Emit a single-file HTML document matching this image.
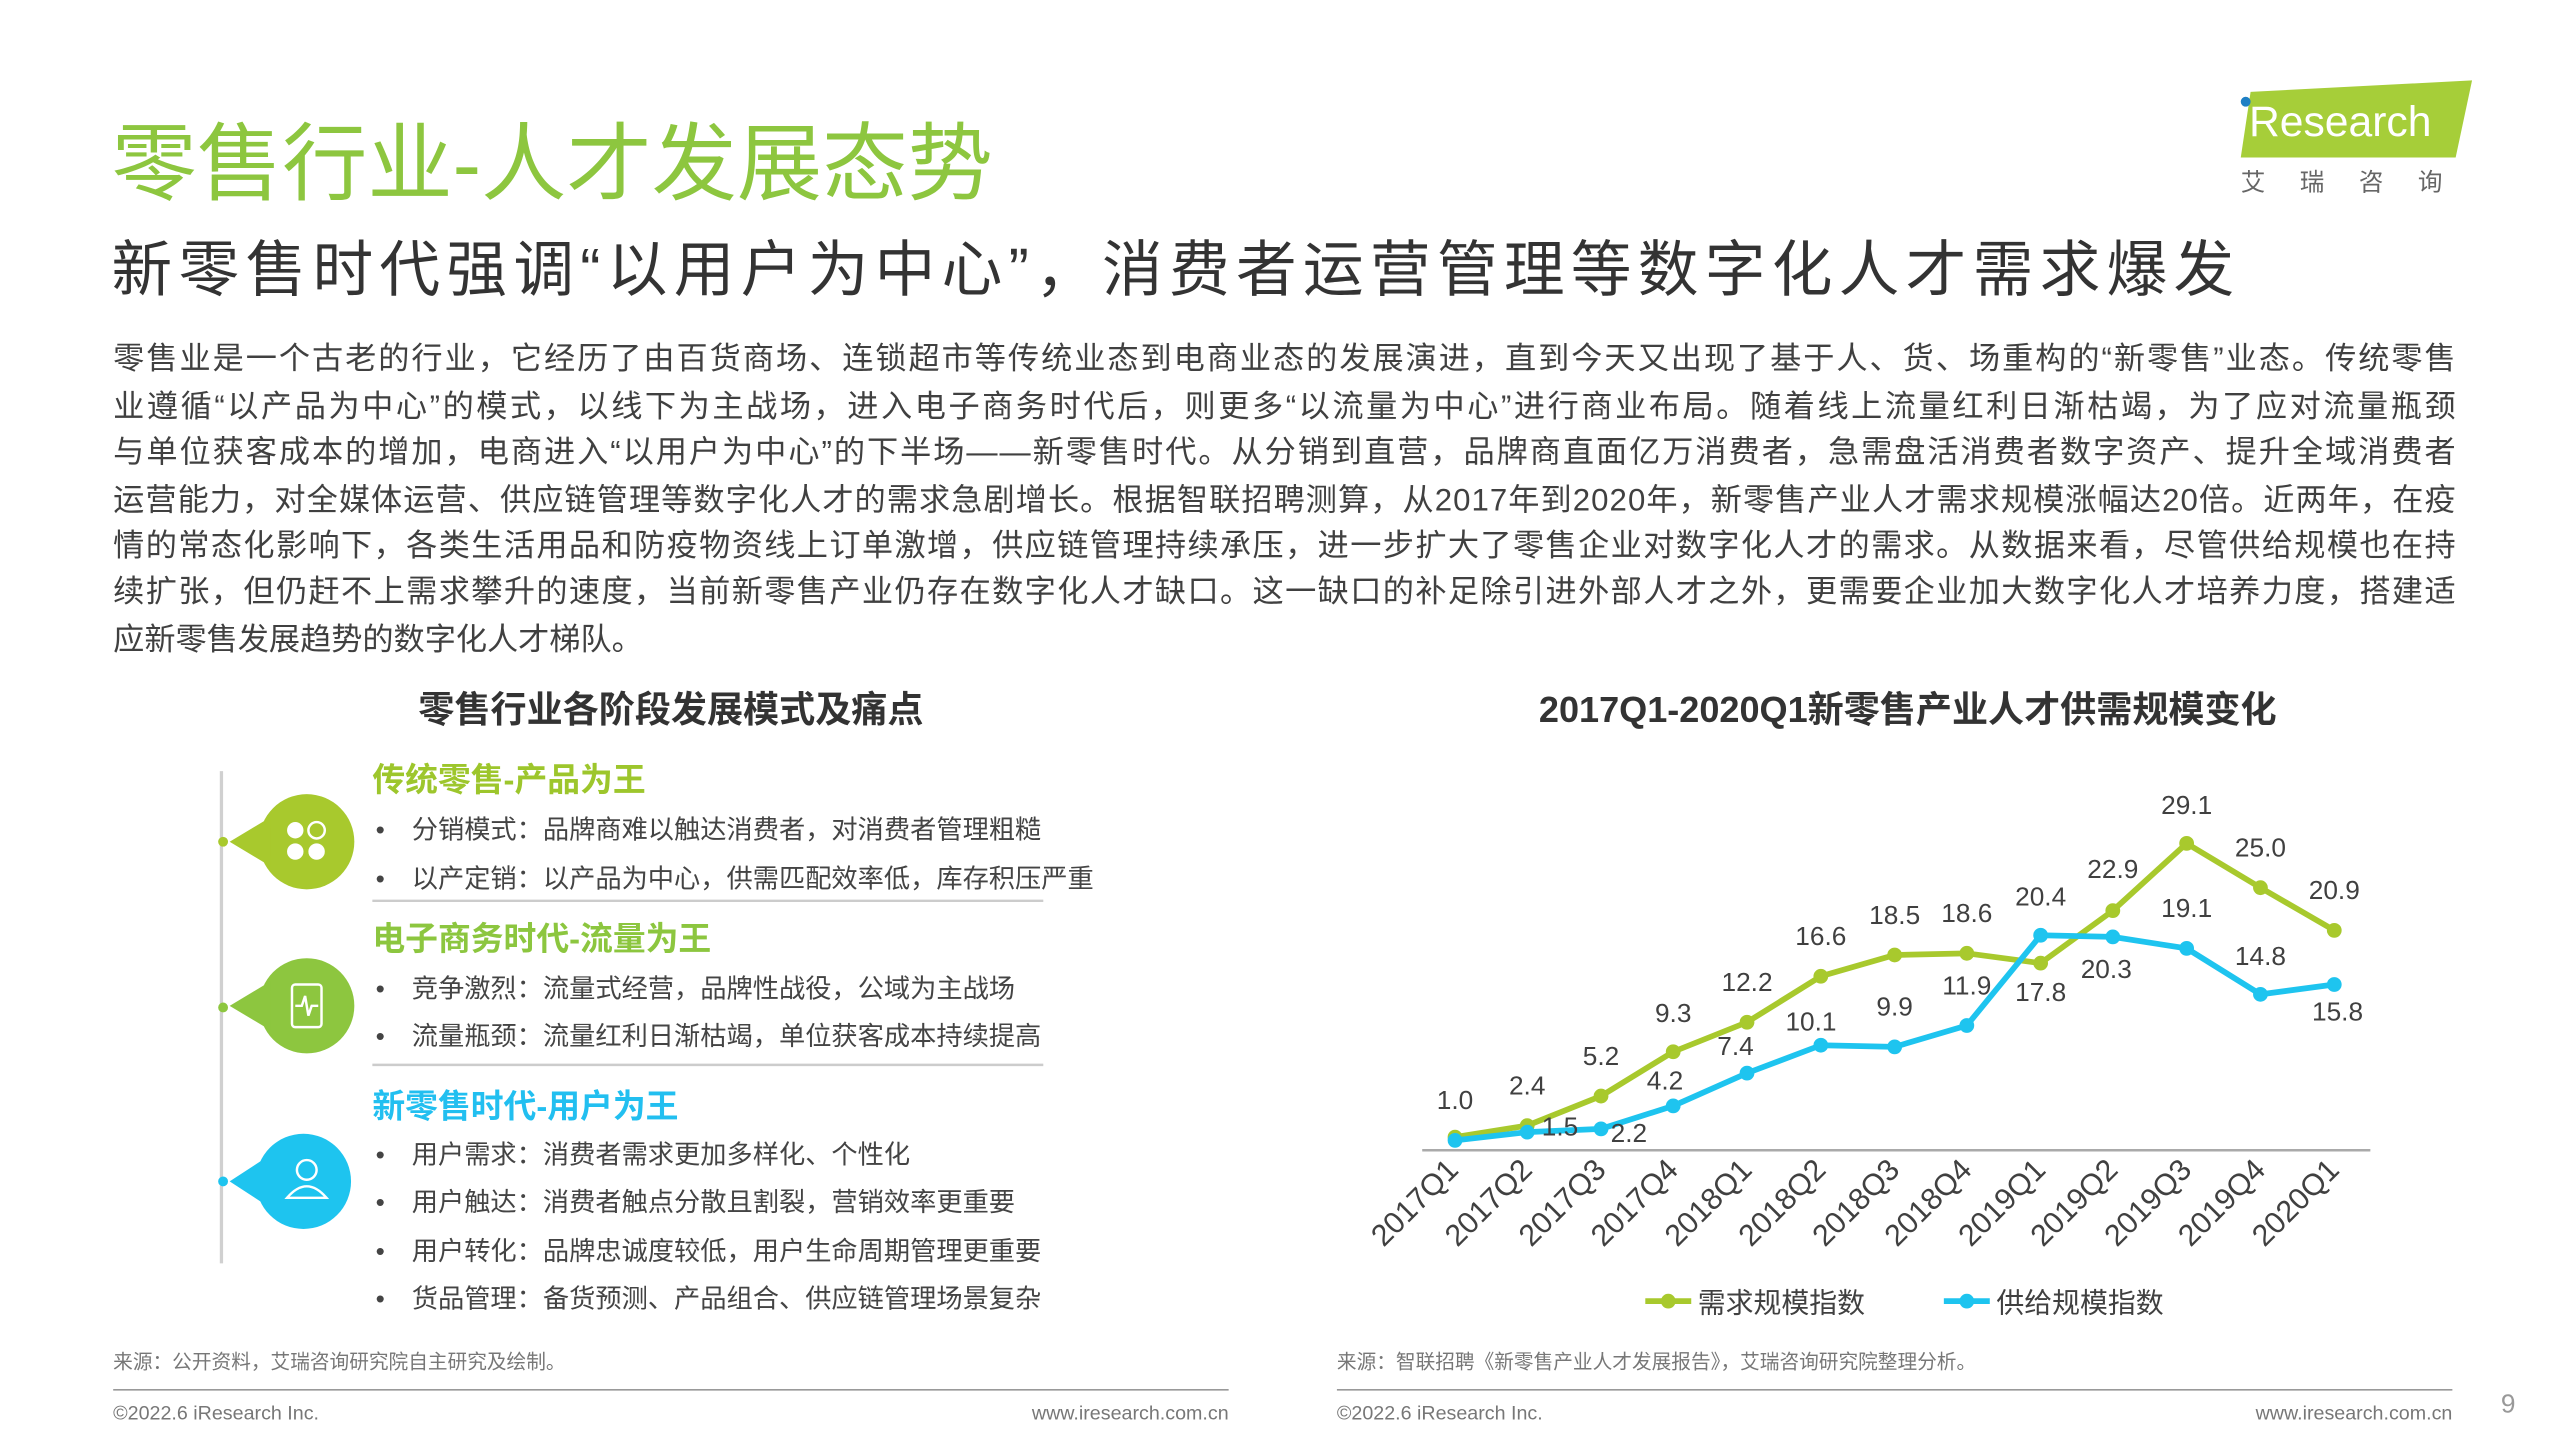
<!DOCTYPE html>
<html><head><meta charset="utf-8">
<style>
html,body{margin:0;padding:0;background:#fff;}
svg{display:block;}
text{font-family:"Liberation Sans","Noto Sans CJK SC",sans-serif;}
</style></head>
<body>
<svg width="2559" height="1439" viewBox="0 0 1560 877" preserveAspectRatio="none" xmlns="http://www.w3.org/2000/svg">
<rect width="1560" height="877" fill="#fff"/>
<!-- Logo -->
<polygon points="1372,56 1507,49 1497,96 1366,96" fill="#a6ce39"/>
<circle cx="1369" cy="62" r="3" fill="#1e7fc4"/>
<text x="1371" y="83" font-size="26" fill="#fff">Research</text>
<text x="1366" y="116" font-size="15" fill="#666" letter-spacing="21">艾瑞咨询</text>
<!-- Title -->
<text x="68" y="118" font-size="52" fill="#8dc63f">零售行业-人才发展态势</text>
<text x="68" y="177" font-size="37" fill="#333" textLength="1294" lengthAdjust="spacing">新零售时代强调“以用户为中心”，消费者运营管理等数字化人才需求爆发</text>
<g font-size="19" fill="#404040">
<text x="69" y="225" textLength="1428" lengthAdjust="spacing">零售业是一个古老的行业，它经历了由百货商场、连锁超市等传统业态到电商业态的发展演进，直到今天又出现了基于人、货、场重构的“新零售”业态。传统零售</text>
<text x="69" y="254" textLength="1428" lengthAdjust="spacing">业遵循“以产品为中心”的模式，以线下为主战场，进入电子商务时代后，则更多“以流量为中心”进行商业布局。随着线上流量红利日渐枯竭，为了应对流量瓶颈</text>
<text x="69" y="282" textLength="1428" lengthAdjust="spacing">与单位获客成本的增加，电商进入“以用户为中心”的下半场——新零售时代。从分销到直营，品牌商直面亿万消费者，急需盘活消费者数字资产、提升全域消费者</text>
<text x="69" y="311" textLength="1428" lengthAdjust="spacing">运营能力，对全媒体运营、供应链管理等数字化人才的需求急剧增长。根据智联招聘测算，从2017年到2020年，新零售产业人才需求规模涨幅达20倍。近两年，在疫</text>
<text x="69" y="339" textLength="1428" lengthAdjust="spacing">情的常态化影响下，各类生活用品和防疫物资线上订单激增，供应链管理持续承压，进一步扩大了零售企业对数字化人才的需求。从数据来看，尽管供给规模也在持</text>
<text x="69" y="367" textLength="1428" lengthAdjust="spacing">续扩张，但仍赶不上需求攀升的速度，当前新零售产业仍存在数字化人才缺口。这一缺口的补足除引进外部人才之外，更需要企业加大数字化人才培养力度，搭建适</text>
<text x="69" y="396">应新零售发展趋势的数字化人才梯队。</text>
</g>
<!-- Section titles -->
<text x="409" y="440" font-size="22" font-weight="bold" fill="#333" text-anchor="middle">零售行业各阶段发展模式及痛点</text>
<text x="1163" y="440" font-size="22" font-weight="bold" fill="#333" text-anchor="middle">2017Q1-2020Q1新零售产业人才供需规模变化</text>
<!-- Left panel -->
<line x1="135" y1="470" x2="135" y2="770" stroke="#d0d0d0" stroke-width="2"/>
<g>
<circle cx="187" cy="513" r="29" fill="#a8c92d"/>
<polygon points="140,513 165,498 165,528" fill="#a8c92d"/>
<circle cx="136" cy="513" r="3" fill="#a8c92d"/>
<circle cx="180" cy="506" r="5" fill="#fff"/><circle cx="193" cy="506" r="5" fill="none" stroke="#fff" stroke-width="1.5"/>
<circle cx="180" cy="519" r="5" fill="#fff"/><circle cx="193" cy="519" r="5" fill="#fff"/>
<circle cx="187" cy="613" r="29" fill="#8dc63f"/>
<polygon points="140,613 165,598 165,628" fill="#8dc63f"/>
<circle cx="136" cy="614" r="3" fill="#8dc63f"/>
<rect x="178" y="600" width="18" height="26" rx="2" fill="none" stroke="#fff" stroke-width="1.5"/>
<polyline points="180,613 184,613 186,607 188,619 190,613 194,613" fill="none" stroke="#fff" stroke-width="1.5"/>
<circle cx="185" cy="720" r="29" fill="#1ec4ef"/>
<polygon points="140,720 163,705 163,735" fill="#1ec4ef"/>
<circle cx="136" cy="720" r="3" fill="#1ec4ef"/>
<circle cx="187" cy="713" r="6" fill="none" stroke="#fff" stroke-width="1.5"/>
<path d="M175,730 Q187,716 199,730 Z" fill="none" stroke="#fff" stroke-width="1.5"/>
</g>
<g font-weight="bold" font-size="20">
<text x="227" y="482" fill="#9dc62c">传统零售-产品为王</text>
<text x="227" y="579" fill="#8cc63f">电子商务时代-流量为王</text>
<text x="227" y="681" fill="#22bff0">新零售时代-用户为王</text>
</g>
<line x1="227" y1="549" x2="636" y2="549" stroke="#ccc" stroke-width="1.5"/>
<line x1="227" y1="649" x2="636" y2="649" stroke="#ccc" stroke-width="1.5"/>
<g font-size="16" fill="#444">
<text x="229" y="511">•</text><text x="251" y="511">分销模式：品牌商难以触达消费者，对消费者管理粗糙</text>
<text x="229" y="541">•</text><text x="251" y="541">以产定销：以产品为中心，供需匹配效率低，库存积压严重</text>
<text x="229" y="608">•</text><text x="251" y="608">竞争激烈：流量式经营，品牌性战役，公域为主战场</text>
<text x="229" y="637">•</text><text x="251" y="637">流量瓶颈：流量红利日渐枯竭，单位获客成本持续提高</text>
<text x="229" y="709">•</text><text x="251" y="709">用户需求：消费者需求更加多样化、个性化</text>
<text x="229" y="738">•</text><text x="251" y="738">用户触达：消费者触点分散且割裂，营销效率更重要</text>
<text x="229" y="768">•</text><text x="251" y="768">用户转化：品牌忠诚度较低，用户生命周期管理更重要</text>
<text x="229" y="797">•</text><text x="251" y="797">货品管理：备货预测、产品组合、供应链管理场景复杂</text>
</g>
<!-- Chart -->
<line x1="867" y1="701" x2="1445" y2="701" stroke="#aaa" stroke-width="1.5"/>
<polyline points="887,693 931,686 976,668 1020,641 1065,623 1110,595 1155,582 1199,581 1244,587 1288,555 1333,514 1378,541 1423,567" fill="none" stroke="#a8c92d" stroke-width="3.5"/>
<g fill="#a8c92d">
<circle cx="887" cy="693" r="4.5"/><circle cx="931" cy="686" r="4.5"/><circle cx="976" cy="668" r="4.5"/><circle cx="1020" cy="641" r="4.5"/><circle cx="1065" cy="623" r="4.5"/><circle cx="1110" cy="595" r="4.5"/><circle cx="1155" cy="582" r="4.5"/><circle cx="1199" cy="581" r="4.5"/><circle cx="1244" cy="587" r="4.5"/><circle cx="1288" cy="555" r="4.5"/><circle cx="1333" cy="514" r="4.5"/><circle cx="1378" cy="541" r="4.5"/><circle cx="1423" cy="567" r="4.5"/>
</g>
<polyline points="887,695 931,690 976,688 1020,674 1065,654 1110,637 1155,638 1199,625 1244,570 1288,571 1333,578 1378,606 1423,600" fill="none" stroke="#1ec4ef" stroke-width="3.5"/>
<g fill="#1ec4ef">
<circle cx="887" cy="695" r="4.5"/><circle cx="931" cy="690" r="4.5"/><circle cx="976" cy="688" r="4.5"/><circle cx="1020" cy="674" r="4.5"/><circle cx="1065" cy="654" r="4.5"/><circle cx="1110" cy="637" r="4.5"/><circle cx="1155" cy="638" r="4.5"/><circle cx="1199" cy="625" r="4.5"/><circle cx="1244" cy="570" r="4.5"/><circle cx="1288" cy="571" r="4.5"/><circle cx="1333" cy="578" r="4.5"/><circle cx="1378" cy="606" r="4.5"/><circle cx="1423" cy="600" r="4.5"/>
</g>
<g font-size="16" fill="#404040" text-anchor="middle">
<text x="887" y="676">1.0</text><text x="931" y="667">2.4</text><text x="976" y="649">5.2</text><text x="1020" y="623">9.3</text><text x="1065" y="604">12.2</text><text x="1110" y="576">16.6</text><text x="1155" y="563">18.5</text><text x="1199" y="562">18.6</text><text x="1244" y="552">20.4</text><text x="1288" y="535">22.9</text><text x="1333" y="496">29.1</text><text x="1378" y="522">25.0</text><text x="1423" y="548">20.9</text>
<text x="951" y="692">1.5</text><text x="993" y="696">2.2</text><text x="1015" y="664">4.2</text><text x="1058" y="643">7.4</text><text x="1104" y="628">10.1</text><text x="1155" y="619">9.9</text><text x="1199" y="606">11.9</text><text x="1244" y="610">17.8</text><text x="1284" y="596">20.3</text><text x="1333" y="559">19.1</text><text x="1378" y="588">14.8</text><text x="1425" y="622">15.8</text>
</g>
<g font-size="18.5" fill="#404040" text-anchor="end">
<text transform="translate(890,714) rotate(-45)">2017Q1</text>
<text transform="translate(935,714) rotate(-45)">2017Q2</text>
<text transform="translate(980,714) rotate(-45)">2017Q3</text>
<text transform="translate(1024,714) rotate(-45)">2017Q4</text>
<text transform="translate(1069,714) rotate(-45)">2018Q1</text>
<text transform="translate(1114,714) rotate(-45)">2018Q2</text>
<text transform="translate(1159,714) rotate(-45)">2018Q3</text>
<text transform="translate(1203,714) rotate(-45)">2018Q4</text>
<text transform="translate(1248,714) rotate(-45)">2019Q1</text>
<text transform="translate(1292,714) rotate(-45)">2019Q2</text>
<text transform="translate(1337,714) rotate(-45)">2019Q3</text>
<text transform="translate(1382,714) rotate(-45)">2019Q4</text>
<text transform="translate(1427,714) rotate(-45)">2020Q1</text>
</g>
<line x1="1003" y1="793" x2="1031" y2="793" stroke="#a8c92d" stroke-width="3.5"/><circle cx="1017" cy="793" r="4.5" fill="#a8c92d"/>
<text x="1035" y="800" font-size="17" fill="#404040">需求规模指数</text>
<line x1="1185" y1="793" x2="1213" y2="793" stroke="#1ec4ef" stroke-width="3.5"/><circle cx="1199" cy="793" r="4.5" fill="#1ec4ef"/>
<text x="1217" y="800" font-size="17" fill="#404040">供给规模指数</text>
<!-- Footer -->
<g font-size="12" fill="#777">
<text x="69" y="834">来源：公开资料，艾瑞咨询研究院自主研究及绘制。</text>
<text x="815" y="834">来源：智联招聘《新零售产业人才发展报告》，艾瑞咨询研究院整理分析。</text>
<text x="69" y="865">©2022.6 iResearch Inc.</text>
<text x="749" y="865" text-anchor="end">www.iresearch.com.cn</text>
<text x="815" y="865">©2022.6 iResearch Inc.</text>
<text x="1495" y="865" text-anchor="end">www.iresearch.com.cn</text>
</g>
<line x1="69" y1="847" x2="749" y2="847" stroke="#999" stroke-width="1"/>
<line x1="815" y1="847" x2="1495" y2="847" stroke="#999" stroke-width="1"/>
<text x="1529" y="861" font-size="16" fill="#999" text-anchor="middle">9</text>
</svg>
</body></html>
